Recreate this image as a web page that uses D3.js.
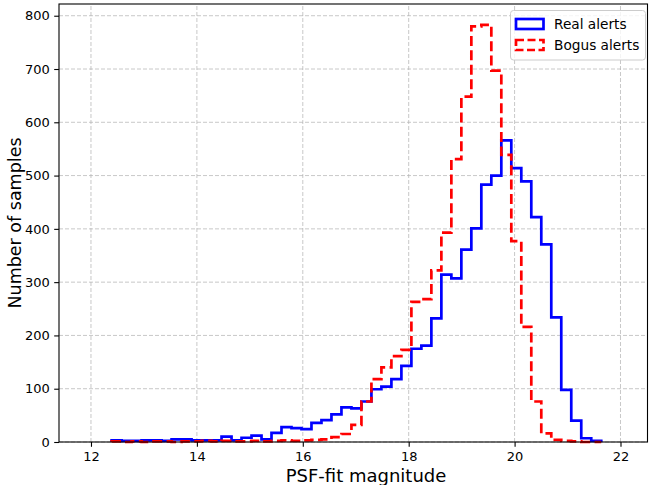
<!DOCTYPE html>
<html>
<head>
<meta charset="utf-8">
<script src="https://cdn.jsdelivr.net/npm/d3@7"></script>
<style>
  html, body { margin: 0; padding: 0; background: #ffffff; }
  svg { display: block; font-family: "DejaVu Sans", sans-serif; }
</style>
</head>
<body>
<svg id="chart" width="649" height="485"></svg>
<script>
// Histogram bin grid (PSF-fit magnitude)
const binStart = 12.39;
const binWidth = 0.1887;

// Counts per bin, real alerts
const realCounts = [
  3, 2, 2, 3, 3, 2, 5, 5, 3, 3,
  3, 10, 3, 8, 12, 5, 17, 28, 26, 24,
  36, 41, 52, 65, 63, 76, 99, 104, 118, 143,
  175, 181, 232, 314, 307, 361, 401, 483, 500, 566,
  514, 489, 422, 371, 234, 98, 40, 7, 2
];

// Counts per bin, bogus alerts
const bogusCounts = [
  1, 0, 1, 0, 1, 1, 0, 1, 1, 2,
  1, 2, 1, 1, 2, 1, 2, 3, 2, 3,
  4, 5, 9, 15, 32, 76, 118, 140, 161, 173,
  263, 268, 322, 393, 531, 648, 780, 783, 697, 539,
  377, 216, 76, 16, 4, 2, 1, 0, 0
];

const xTicks = [12, 14, 16, 18, 20, 22];
const yTicks = [0, 100, 200, 300, 400, 500, 600, 700, 800];
const seriesNames = ["Real alerts", "Bogus alerts"];

const svg = d3.select("#chart");
const margin = { left: 59, right: 1.5, top: 4, bottom: 43 };
const W = 649, H = 485;

const x = d3.scaleLinear().domain([11.396, 22.51]).range([margin.left, W - margin.right]);
const y = d3.scaleLinear().domain([0, 822]).range([H - margin.bottom, margin.top]);

// grid
const grid = svg.append("g");
grid.selectAll("line.gx").data(xTicks).join("line")
  .attr("x1", d => x(d)).attr("x2", d => x(d))
  .attr("y1", y.range()[0]).attr("y2", y.range()[1])
  .attr("stroke", "#b0b0b0").attr("stroke-opacity", 0.7)
  .attr("stroke-width", 1).attr("stroke-dasharray", "4,2");
grid.selectAll("line.gy").data(yTicks).join("line")
  .attr("y1", d => y(d)).attr("y2", d => y(d))
  .attr("x1", x.range()[0]).attr("x2", x.range()[1])
  .attr("stroke", "#b0b0b0").attr("stroke-opacity", 0.7)
  .attr("stroke-width", 1).attr("stroke-dasharray", "4,2");

// step outline of a histogram
function stepPath(counts) {
  const pts = [[binStart, 0]];
  counts.forEach((c, i) => {
    const lo = binStart + i * binWidth;
    pts.push([lo, c], [lo + binWidth, c]);
  });
  pts.push([binStart + counts.length * binWidth, 0]);
  return d3.line().x(d => x(d[0])).y(d => y(d[1]))(pts);
}

const plot = svg.append("g");
plot.append("path").attr("d", stepPath(realCounts))
  .attr("fill", "none").attr("stroke", "#0000ff").attr("stroke-width", 2.7)
  .attr("stroke-linejoin", "miter");
plot.append("path").attr("d", stepPath(bogusCounts))
  .attr("fill", "none").attr("stroke", "#ff0000").attr("stroke-width", 2.7)
  .attr("stroke-dasharray", "10,4.4").attr("stroke-linejoin", "miter");

// axes
const xAxis = d3.axisBottom(x).tickValues(xTicks).tickSize(4.8).tickPadding(4.5).tickFormat(d3.format("d"));
const yAxis = d3.axisLeft(y).tickValues(yTicks).tickSize(4.8).tickPadding(4.5).tickFormat(d3.format("d"));

const gx = svg.append("g").attr("transform", `translate(0,${y(0)})`).call(xAxis);
const gy = svg.append("g").attr("transform", `translate(${x.range()[0]},0)`).call(yAxis);
[gx, gy].forEach(g => {
  g.select(".domain").remove();
  g.selectAll(".tick line").attr("stroke", "#000").attr("stroke-width", 1.1);
  g.selectAll(".tick text").attr("fill", "#000").style("font-size", "13px")
    .style("font-family", "DejaVu Sans, sans-serif");
});

// frame
svg.append("rect")
  .attr("x", x.range()[0]).attr("y", y.range()[1])
  .attr("width", x.range()[1] - x.range()[0]).attr("height", y.range()[0] - y.range()[1])
  .attr("fill", "none").attr("stroke", "#000").attr("stroke-width", 1.1);

// axis titles
svg.append("text").attr("x", 366).attr("y", 482)
  .attr("text-anchor", "middle").style("font-size", "18px").text("PSF-fit magnitude");
svg.append("text")
  .attr("transform", `translate(21,${(y.range()[0] + y.range()[1]) / 2}) rotate(-90)`)
  .attr("text-anchor", "middle").style("font-size", "17.5px").text("Number of samples");

// legend
const lg = svg.append("g");
lg.append("rect").attr("x", 510.5).attr("y", 10.5).attr("width", 135).attr("height", 49.5)
  .attr("rx", 3).attr("fill", "#fff").attr("fill-opacity", 0.8)
  .attr("stroke", "#cccccc").attr("stroke-width", 1);
const legendStyles = [
  { color: "#0000ff", dash: null },
  { color: "#ff0000", dash: "8,3.5" }
];
seriesNames.forEach((name, i) => {
  const cy = 24 + i * 21;
  lg.append("rect").attr("x", 516).attr("y", cy - 5).attr("width", 27.5).attr("height", 10)
    .attr("fill", "none").attr("stroke", legendStyles[i].color).attr("stroke-width", 2.7)
    .attr("stroke-dasharray", legendStyles[i].dash);
  lg.append("text").attr("x", 554).attr("y", cy + 5)
    .style("font-size", "13.7px").text(name);
});
</script>
</body>
</html>
